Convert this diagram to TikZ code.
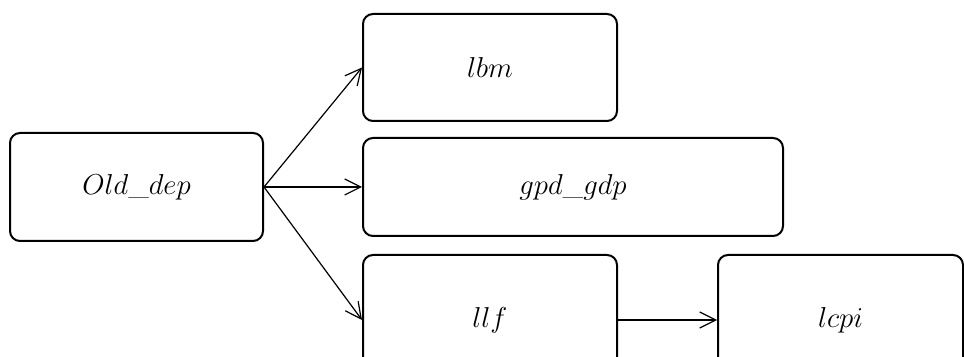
\documentclass[tikz,border=0pt]{standalone}
\usepackage{amsmath}
\usepackage{tikz}
\usetikzlibrary{arrows.meta}

\tikzset{
  varbox/.style={draw, line width=1pt, rounded corners=5pt, fill=white,
    font=\fontsize{14}{17}\selectfont, inner sep=0pt},
  flow/.style={-{Straight Barb[length=8pt, width=8pt]}, line width=0.6pt}
}

\begin{document}
\begin{tikzpicture}[x=0.5pt, y=-0.5pt]
  % Frame
  \useasboundingbox (0,0) rectangle (964,357);
  \clip (0,0) rectangle (964,357);

  % Variables
  \node[varbox, minimum width=126.5pt, minimum height=54pt] (old) at (136.5,187) {$Old\_dep$};
  \node[varbox, minimum width=127pt, minimum height=53.5pt] (lbm) at (490,67.5) {$lbm$};
  \node[varbox, minimum width=210pt, minimum height=49pt] (gpd) at (573,187) {$gpd\_gdp$};
  \node[varbox, minimum width=127pt, minimum height=65pt] (llf) at (490,320) {$llf$};
  \node[varbox, minimum width=122.5pt, minimum height=65pt] (lcpi) at (840.5,320) {$lcpi$};

  % Links
  \draw[flow] (old.east) -- (lbm.west);
  \draw[flow] (old.east) -- (gpd.west);
  \draw[flow] (old.east) -- (llf.west);
  \draw[flow] (llf.east) -- (lcpi.west);
\end{tikzpicture}
\end{document}
